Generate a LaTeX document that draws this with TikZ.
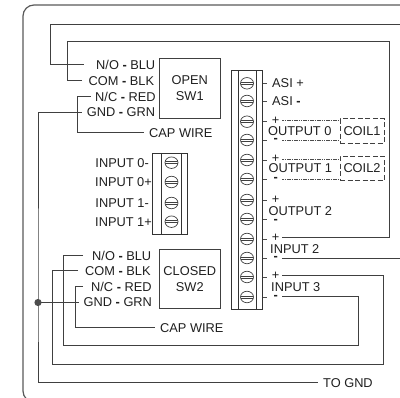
\documentclass[tikz,border=0pt]{standalone}
\usepackage{fontspec}
\setmainfont{Liberation Sans}
\usetikzlibrary{shapes.geometric}
\newcommand{\dsh}{\textbf{-}}
\tikzset{
    frameline/.style={draw=black!65, line width=1.2pt},
    wire/.style={draw=black!75, line width=1pt},
    finewire/.style={draw=black!70, line width=0.7pt, dash pattern=on 1.6pt off 0.7pt},
    lbl/.style={font=\fontsize{12.8}{14}\selectfont, text=black!88, inner ysep=0pt, inner xsep=5pt, anchor=west},
    swbox/.style={draw=black!75, line width=0.8pt, minimum width=61.5pt, minimum height=59.5pt, align=center, font=\fontsize{12.8}{16}\selectfont, text=black!88},
    coilbox/.style={draw=black!75, line width=0.8pt, dash pattern=on 5pt off 2.5pt, minimum width=44pt, minimum height=24.5pt, inner sep=0pt, font=\fontsize{12.8}{14}\selectfont, text=black!88},
    block/.style={draw=black!80, line width=0.8pt, inner sep=0pt},
    screw/.style={ellipse, draw=black!75, line width=0.7pt, minimum width=13pt, minimum height=11.5pt, inner sep=0pt,
        path picture={
            \draw[black!75, line width=0.7pt] ([yshift=1pt]path picture bounding box.west) -- ([yshift=1pt]path picture bounding box.east);
            \draw[black!75, line width=0.7pt] ([yshift=-1pt]path picture bounding box.west) -- ([yshift=-1pt]path picture bounding box.east);
        }},
    tick/.style={draw=black!70, line width=0.7pt},
    pin/.style={font=\fontsize{12.8}{14}\selectfont, text=black!88, inner sep=0pt, minimum width=13pt}
}
\begin{document}
\begin{tikzpicture}[x=1pt, y=-1pt]
        \useasboundingbox (0,0) rectangle (400,398);
        % outer case
        \draw[frameline, rounded corners=11pt] (403,5) -- (23,5) -- (23,402) -- (403,402);
        % switches
        \node[swbox] (sw1) at (189.8,88.2) {OPEN\\SW1};
        \node[swbox] (sw2) at (189.8,279) {CLOSED\\SW2};
        \node[lbl, inner xsep=12.5pt] (no1) at (83.5,65) {N/O \dsh{} BLU};
        \node[lbl, inner xsep=6.5pt] (com1) at (82,81) {COM \dsh{} BLK};
        \node[lbl, inner xsep=4.5pt] (nc1) at (90.5,97) {N/C \dsh{} RED};
        \node[lbl] (gnd1) at (81.7,112.5) {GND \dsh{} GRN};
        \node[lbl] (cap1) at (144,133) {CAP WIRE};
        \node[lbl, inner xsep=9pt] (no2) at (83,255.5) {N/O \dsh{} BLU};
        \node[lbl, inner xsep=7pt] (com2) at (78,271) {COM \dsh{} BLK};
        \node[lbl, inner xsep=8pt] (nc2) at (83,287) {N/C \dsh{} RED};
        \node[lbl, inner xsep=5pt] (gnd2) at (78.5,302.5) {GND \dsh{} GRN};
        \node[lbl] (cap2) at (155,328) {CAP WIRE};
        % small terminal block
        \node[block, minimum width=34.6pt, minimum height=81pt] (tb2) at (170,193.5) {};
        \draw[block] (161.7,153) -- (161.7,234);
        \draw[block] (181,153) -- (181,234);
        \node[screw] (u0) at (171.5,162.7) {};
        \node[screw] (u1) at (171.5,182) {};
        \node[screw] (u2) at (171.5,203) {};
        \node[screw] (u3) at (171.5,221.7) {};
        \node[lbl, anchor=east, inner xsep=0pt] (in0m) at (149,162.7) {INPUT 0-};
        \node[lbl, anchor=east, inner xsep=0pt] (in0p) at (152,182) {INPUT 0+};
        \node[lbl, anchor=east, inner xsep=0pt] (in1m) at (149,203) {INPUT 1-};
        \node[lbl, anchor=east, inner xsep=0pt] (in1p) at (152,221.7) {INPUT 1+};
        % main terminal block
        \node[block, minimum width=31pt, minimum height=238.5pt] (tb1) at (247,189.7) {};
        \draw[block] (238.5,70.5) -- (238.5,309);
        \draw[block] (256.5,70.5) -- (256.5,309);
        \node[screw] (s0) at (247,83.3) {};
        \node[screw] (s1) at (247,101) {};
        \node[screw] (s2) at (247,121.7) {};
        \node[screw] (s3) at (247,140) {};
        \node[screw] (s4) at (247,160) {};
        \node[screw] (s5) at (247,179) {};
        \node[screw] (s6) at (247,200) {};
        \node[screw] (s7) at (247,219) {};
        \node[screw] (s8) at (247,239) {};
        \node[screw] (s9) at (247,258) {};
        \node[screw] (s10) at (247,277) {};
        \node[screw] (s11) at (247,297) {};
        \draw[tick] (tb1.east |- s0) -- ++(4,0);
        \draw[tick] (tb1.east |- s1) -- ++(4,0);
        \draw[tick] (tb1.east |- s2) -- ++(4,0);
        \draw[tick] (tb1.east |- s3) -- ++(4,0);
        \draw[tick] (tb1.east |- s4) -- ++(4,0);
        \draw[tick] (tb1.east |- s5) -- ++(4,0);
        \draw[tick] (tb1.east |- s6) -- ++(4,0);
        \draw[tick] (tb1.east |- s7) -- ++(4,0);
        \draw[tick] (tb1.east |- s8) -- ++(4,0);
        \draw[tick] (tb1.east |- s9) -- ++(4,0);
        \draw[tick] (tb1.east |- s10) -- ++(4,0);
        \draw[tick] (tb1.east |- s11) -- ++(4,0);
        \node[lbl, inner xsep=0pt] (asip) at (272,83.3) {ASI +};
        \node[lbl, inner xsep=0pt] (asim) at (272,101) {ASI \dsh};
        \node[pin] (p0) at (275.7,120.5) {+};
        \node[pin] (m0) at (275.7,140.5) {\dsh};
        \node[pin] (p1) at (275.7,159) {+};
        \node[pin] (m1) at (275.7,179) {\dsh};
        \node[pin] (p2) at (275.7,200) {+};
        \node[pin] (m2) at (275.7,221) {\dsh};
        \node[pin] (p3) at (275.7,238) {+};
        \node[pin] (m3) at (275.7,258.5) {\dsh};
        \node[pin] (p4) at (275.7,276) {+};
        \node[pin] (m4) at (275.7,297) {\dsh};
        \node[lbl, inner xsep=0pt] (out0) at (268,131) {OUTPUT 0};
        \node[lbl, inner xsep=0pt] (out1) at (268.5,168.5) {OUTPUT 1};
        \node[lbl, inner xsep=0pt] (out2) at (268.5,211) {OUTPUT 2};
        \node[lbl, inner xsep=0pt] (in2) at (270,249.5) {INPUT 2};
        \node[lbl, inner xsep=0pt] (in3) at (271,287.5) {INPUT 3};
        \node[coilbox] (coil1) at (362,131) {COIL1};
        \node[coilbox] (coil2) at (362,168.3) {COIL2};
        \draw[finewire] (p0.east) -- (coil1.west |- p0);
        \draw[finewire] (m0.east) -- (coil1.west |- m0);
        \draw[finewire] (p1.east) -- (coil2.west |- p1);
        \draw[finewire] (m1.east) -- (coil2.west |- m1);
        % wires
        \coordinate (e1) at (403,24.5);
        \coordinate (e2) at (403,258.5);
        \coordinate (jn) at (38,302.5);
        \node[lbl] (togd) at (318,383) {TO GND};
        \draw[wire] (no1.west) -| (50,24.5) -- (e1);
        \draw[wire] (com1.west) -| (67,41.5) -- (389.5,41.5) |- (p3.east);
        \draw[wire] (nc1.west) -| (77,133) -- (cap1.west);
        \draw[wire] (gnd1.west) -| (jn) |- (togd.west);
        \draw[wire] (m3.east) -- (e2);
        \draw[wire] (no2.west) -| (63.5,346) -- (358.5,346) |- (m4.east);
        \draw[wire] (com2.west) -| (52,364.7) -- (383.7,364.7) |- (p4.east);
        \draw[wire] (nc2.west) -| (75,328) -- (cap2.west);
        \draw[wire] (jn) -- (gnd2.west);
        \fill[black!70] (jn) circle (3.6pt);
\end{tikzpicture}
\end{document}
